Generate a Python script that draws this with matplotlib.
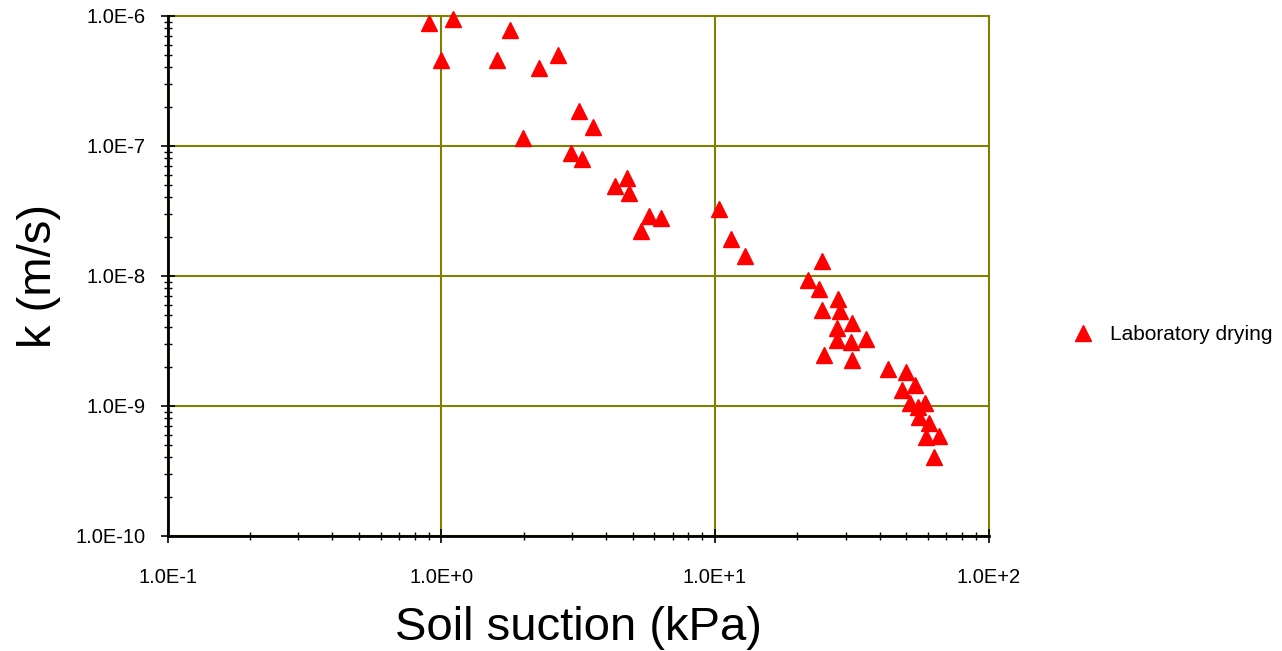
import numpy as np
import matplotlib
matplotlib.use("Agg")
import matplotlib.pyplot as plt
from matplotlib.ticker import LogLocator, FuncFormatter, NullFormatter

plt.rcParams['font.family'] = ['Liberation Sans', 'DejaVu Sans']

# soil suction (kPa) and hydraulic conductivity k (m/s), laboratory drying
suction = [0.90, 1.10, 1.00, 1.78, 1.60, 2.67, 2.27, 3.18, 3.58, 1.99,
           2.97, 3.27, 4.77, 4.32, 4.84, 5.74, 6.33, 5.38, 10.3, 11.4,
           12.9, 24.6, 21.8, 24.0, 28.1, 24.6, 28.6, 27.8, 31.7, 28.0,
           31.4, 35.5, 25.0, 31.7, 42.7, 49.7, 53.8, 48.2, 51.6, 55.1,
           58.5, 55.6, 60.5, 58.9, 65.8, 63.1]
k = [8.74e-7, 9.38e-7, 4.56e-7, 7.76e-7, 4.56e-7, 4.98e-7, 3.94e-7, 1.85e-7, 1.385e-7, 1.14e-7,
     8.83e-8, 7.86e-8, 5.61e-8, 4.90e-8, 4.35e-8, 2.89e-8, 2.76e-8, 2.22e-8, 3.27e-8, 1.90e-8,
     1.42e-8, 1.30e-8, 9.27e-9, 7.90e-9, 6.62e-9, 5.45e-9, 5.38e-9, 3.98e-9, 4.33e-9, 3.20e-9,
     3.09e-9, 3.26e-9, 2.47e-9, 2.25e-9, 1.92e-9, 1.82e-9, 1.44e-9, 1.32e-9, 1.05e-9, 9.82e-10,
     1.05e-9, 8.23e-10, 7.36e-10, 5.77e-10, 5.85e-10, 4.05e-10]

xlim = (0.1, 100)
ylim = (1e-10, 1e-6)


def sci(v, pos):
    e = int(round(np.log10(v)))
    return "1.0E%+d" % e


fig = plt.figure(figsize=(12.82, 6.51), dpi=100)
ax = fig.add_axes([0.1308, 0.1771, 0.6404, 0.7988])

ax.plot(suction, k, linestyle='none', marker='^', ms=11, color='#ff0000',
        mec='#ff0000', label='Laboratory drying', clip_on=False, zorder=5)

ax.set_xscale('log')
ax.set_yscale('log')
ax.set_xlim(*xlim)
ax.set_ylim(*ylim)

ax.xaxis.set_major_locator(LogLocator(base=10, numticks=10))
ax.yaxis.set_major_locator(LogLocator(base=10, numticks=10))
ax.xaxis.set_minor_locator(LogLocator(base=10, subs=np.arange(2, 10), numticks=20))
ax.yaxis.set_minor_locator(LogLocator(base=10, subs=np.arange(2, 10), numticks=20))
ax.xaxis.set_major_formatter(FuncFormatter(sci))
ax.yaxis.set_major_formatter(FuncFormatter(sci))
ax.xaxis.set_minor_formatter(NullFormatter())
ax.yaxis.set_minor_formatter(NullFormatter())

ax.grid(True, which='major', color='#808000', linewidth=1.5)
ax.set_axisbelow(True)
for gl in ax.get_xgridlines() + ax.get_ygridlines():
    gl.set_clip_on(False)

for s in ['top', 'right']:
    ax.spines[s].set_visible(False)
for s in ['left', 'bottom']:
    ax.spines[s].set_linewidth(2)
    ax.spines[s].set_color('black')
    ax.spines[s].set_zorder(6)

ax.tick_params(axis='both', which='major', direction='inout', length=10, width=1.2,
               labelsize=14.5, colors='black')
ax.tick_params(axis='x', which='major', pad=18)
ax.tick_params(axis='y', which='major', pad=11)
ax.tick_params(axis='both', which='minor', direction='inout', length=6, width=1.0)

ax.set_xlabel('Soil suction (kPa)', fontsize=34, labelpad=14)
ax.set_ylabel('k (m/s)', fontsize=34, labelpad=10)

fig.legend(loc='center left', bbox_to_anchor=(1062 / 1282, 1 - 335 / 651),
           frameon=False, fontsize=15, handletextpad=0.7, handlelength=1.2,
           borderaxespad=0)

fig.savefig('out.png', dpi=100)
